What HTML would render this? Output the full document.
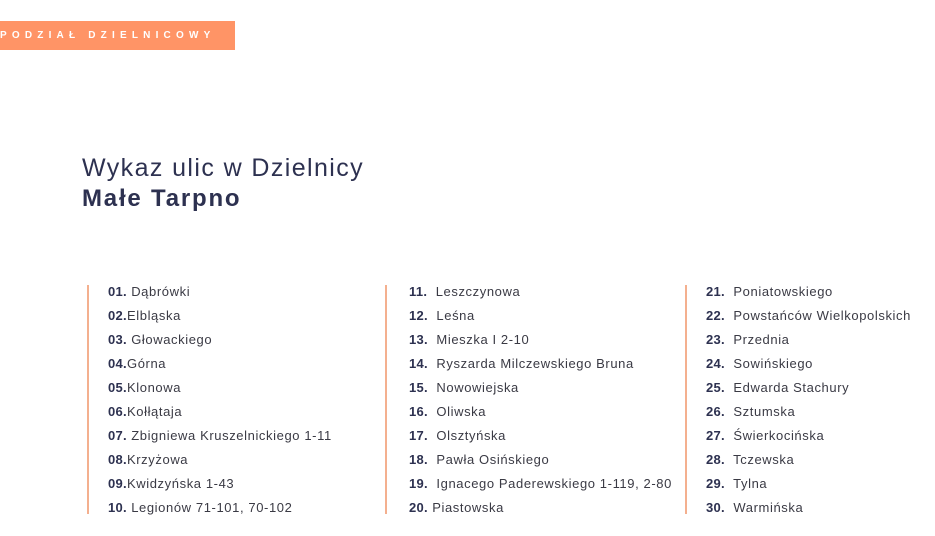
<!DOCTYPE html>
<html><head><meta charset="utf-8"><style>
body{margin:0;width:935px;height:536px;background:#fff;position:relative;overflow:hidden;font-family:"Liberation Sans",sans-serif;}
.badge{position:absolute;left:0;top:21px;width:235px;height:29px;background:#ff9466;color:#fff;font-size:10px;font-weight:bold;letter-spacing:5.2px;line-height:29px;box-sizing:border-box;}
.t1{position:absolute;left:82px;top:154px;font-size:25px;color:#2d3150;letter-spacing:1.4px;}
.t2{position:absolute;left:82px;top:185px;font-size:24px;color:#2d3150;font-weight:bold;letter-spacing:1.8px;}
.vl{position:absolute;top:285px;height:229px;width:2px;background:#f4b08f;}
.col{position:absolute;top:283px;}
.row{height:24px;line-height:18px;font-size:13px;color:#3a3a44;white-space:nowrap;letter-spacing:0.6px;}
.row b{color:#2d3150;letter-spacing:0.3px;}
</style></head><body>
<div class="badge">PODZIAŁ DZIELNICOWY</div>
<div class="t1">Wykaz ulic w Dzielnicy</div>
<div class="t2">Małe Tarpno</div>
<div class="vl" style="left:87px"></div>
<div class="vl" style="left:385px"></div>
<div class="vl" style="left:685px"></div>
<div class="col" style="left:108px">
<div class="row"><b>01.</b> Dąbrówki</div>
<div class="row"><b>02.</b>Elbląska</div>
<div class="row"><b>03.</b> Głowackiego</div>
<div class="row"><b>04.</b>Górna</div>
<div class="row"><b>05.</b>Klonowa</div>
<div class="row"><b>06.</b>Kołłątaja</div>
<div class="row"><b>07.</b> Zbigniewa Kruszelnickiego 1-11</div>
<div class="row"><b>08.</b>Krzyżowa</div>
<div class="row"><b>09.</b>Kwidzyńska 1-43</div>
<div class="row"><b>10.</b> Legionów 71-101, 70-102</div>
</div>
<div class="col" style="left:409px">
<div class="row"><b>11.</b>&nbsp; Leszczynowa</div>
<div class="row"><b>12.</b>&nbsp; Leśna</div>
<div class="row"><b>13.</b>&nbsp; Mieszka I 2-10</div>
<div class="row"><b>14.</b>&nbsp; Ryszarda Milczewskiego Bruna</div>
<div class="row"><b>15.</b>&nbsp; Nowowiejska</div>
<div class="row"><b>16.</b>&nbsp; Oliwska</div>
<div class="row"><b>17.</b>&nbsp; Olsztyńska</div>
<div class="row"><b>18.</b>&nbsp; Pawła Osińskiego</div>
<div class="row"><b>19.</b>&nbsp; Ignacego Paderewskiego 1-119, 2-80</div>
<div class="row"><b>20.</b> Piastowska</div>
</div>
<div class="col" style="left:706px">
<div class="row"><b>21.</b>&nbsp; Poniatowskiego</div>
<div class="row"><b>22.</b>&nbsp; Powstańców Wielkopolskich</div>
<div class="row"><b>23.</b>&nbsp; Przednia</div>
<div class="row"><b>24.</b>&nbsp; Sowińskiego</div>
<div class="row"><b>25.</b>&nbsp; Edwarda Stachury</div>
<div class="row"><b>26.</b>&nbsp; Sztumska</div>
<div class="row"><b>27.</b>&nbsp; Świerkocińska</div>
<div class="row"><b>28.</b>&nbsp; Tczewska</div>
<div class="row"><b>29.</b>&nbsp; Tylna</div>
<div class="row"><b>30.</b>&nbsp; Warmińska</div>
</div>
</body></html>
